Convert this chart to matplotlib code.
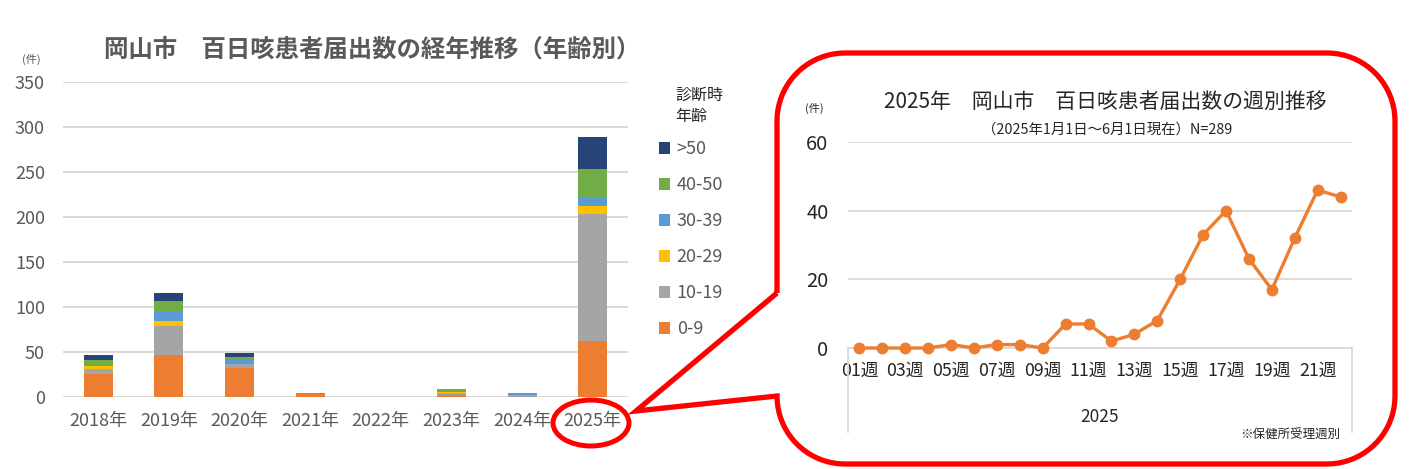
import matplotlib
matplotlib.use("Agg")
import matplotlib.pyplot as plt
import numpy as np
from matplotlib.patches import Ellipse, PathPatch
from matplotlib.path import Path

plt.rcParams['font.family'] = ['Noto Sans CJK JP', 'DejaVu Sans']

# ---------------- data ----------------
years = ['2018年', '2019年', '2020年', '2021年', '2022年', '2023年', '2024年', '2025年']
age_groups = ['0-9', '10-19', '20-29', '30-39', '40-50', '>50']
age_0_9   = [26, 47, 32, 3, 0, 2, 0, 62]
age_10_19 = [5, 32, 5, 0, 0, 2, 2, 141]
age_20_29 = [3, 6, 0, 0, 0, 2, 0, 9]
age_30_39 = [2, 10, 5, 1, 0, 0, 2, 10]
age_40_50 = [5, 12, 3, 1, 0, 3, 0, 31]
age_50p   = [6, 9, 4, 0, 0, 0, 0, 36]
age_colors = ['#ED7D31', '#A5A5A5', '#FFC000', '#5B9BD5', '#70AD47', '#264478']
left_yticks = [0, 50, 100, 150, 200, 250, 300, 350]

week_labels = ['01週', '02週', '03週', '04週', '05週', '06週', '07週', '08週', '09週', '10週', '11週',
               '12週', '13週', '14週', '15週', '16週', '17週', '18週', '19週', '20週', '21週', '22週']
weekly_cases = [0, 0, 0, 0, 1, 0, 1, 1, 0, 7, 7, 2, 4, 8, 20, 33, 40, 26, 17, 32, 46, 44]
right_yticks = [0, 20, 40, 60]

W, H = 1416, 469
fig = plt.figure(figsize=(W / 100, H / 100), dpi=100)
fig.patch.set_facecolor('white')


def rect(l, t, r, b):
    return [l / W, 1 - b / H, (r - l) / W, (b - t) / H]


GRID = '#D9D9D9'
TXT_L = '#595959'
TXT_R = '#262626'

# ---------------- left chart ----------------
ax = fig.add_axes(rect(63, 82, 628, 397))
series = [age_0_9, age_10_19, age_20_29, age_30_39, age_40_50, age_50p]
x = np.arange(len(years))
bottom = np.zeros(len(years))
handles = []
for vals, col, lab in zip(series, age_colors, age_groups):
    b = ax.bar(x, vals, width=0.41, bottom=bottom, color=col, label=lab, zorder=3)
    handles.append(b)
    bottom += np.array(vals)
ax.set_xlim(-0.5, len(years) - 0.5)
ax.set_ylim(0, 350)
ax.set_yticks(left_yticks)
ax.set_xticks(x)
ax.set_xticklabels(years)
ax.yaxis.grid(True, color=GRID, lw=1.4, zorder=0)
ax.set_axisbelow(True)
for s in ax.spines.values():
    s.set_visible(False)
ax.tick_params(axis='both', length=0, labelsize=13, colors=TXT_L)
ax.tick_params(axis='y', pad=13)
ax.tick_params(axis='x', pad=11)
fig.text(31 / W, 1 - 59 / H, '(件)', fontsize=8, color=TXT_L, ha='center', va='center')
fig.text(372 / W, 1 - 50 / H, '岡山市　百日咳患者届出数の経年推移（年齢別）', fontsize=17.6,
         fontweight='bold', color=TXT_L, ha='center', va='center')

# legend
leg = fig.legend(handles=handles[::-1], labels=age_groups[::-1], loc='upper left',
                 bbox_to_anchor=(652 / W, 1 - 133 / H), frameon=False, fontsize=13,
                 handlelength=0.62, handleheight=0.62, handletextpad=0.35,
                 labelspacing=1.0, borderaxespad=0)
for t in leg.get_texts():
    t.set_color(TXT_L)
fig.text(675 / W, 1 - 106 / H, '診断時\n年齢', fontsize=11.5, color=TXT_R,
         ha='left', va='center', linespacing=1.3)

# ---------------- right chart ----------------
ax2 = fig.add_axes(rect(848, 142, 1352, 348))
xi = np.arange(len(weekly_cases))
ax2.plot(xi, weekly_cases, color='#ED7D31', lw=2.4, marker='o', markersize=7.5, zorder=3,
         clip_on=False)
ax2.set_xlim(-0.5, len(weekly_cases) - 0.5)
ax2.set_ylim(0, 60)
ax2.set_yticks(right_yticks)
ax2.set_xticks(xi[::2])
ax2.set_xticklabels(week_labels[::2])
ax2.yaxis.grid(True, color=GRID, lw=1.3, zorder=0)
ax2.set_axisbelow(True)
for k, s in ax2.spines.items():
    s.set_visible(k == 'bottom')
ax2.spines['bottom'].set_color(GRID)
ax2.spines['bottom'].set_linewidth(1.3)
ax2.tick_params(axis='both', length=0, colors=TXT_R)
ax2.tick_params(axis='y', labelsize=14.5, pad=14)
ax2.tick_params(axis='x', labelsize=12.8, pad=10)
ax2.text(0.5, -0.335, '2025', transform=ax2.transAxes, fontsize=12.5, color=TXT_R,
         ha='center', va='center')
fig.text(1105 / W, 1 - 102 / H, '2025年　岡山市　百日咳患者届出数の週別推移', fontsize=15,
         color=TXT_R, ha='center', va='center')
fig.text(1107 / W, 1 - 130 / H, '（2025年1月1日～6月1日現在）N=289', fontsize=10.4,
         color=TXT_R, ha='center', va='center')
fig.text(814 / W, 1 - 108 / H, '(件)', fontsize=8, color=TXT_R, ha='center', va='center')
fig.text(1340 / W, 1 - 435 / H, '※保健所受理週別', fontsize=9, color=TXT_R,
         ha='right', va='center')

# ---------------- overlay (callout, ellipse, separators) ----------------
ov = fig.add_axes([0, 0, 1, 1], zorder=10)
ov.set_xlim(0, W)
ov.set_ylim(H, 0)
ov.axis('off')
ov.patch.set_alpha(0)

for xs in (848, 1352):
    ov.plot([xs, xs], [348, 432], color=GRID, lw=1.3)

L, R, T, B, r = 777, 1395, 53, 464, 68
tip = (636, 411)
up_join = 293


def arc(cx, cy, a0, a1, n=20):
    a = np.radians(np.linspace(a0, a1, n))
    return list(zip(cx + r * np.cos(a), cy + r * np.sin(a)))


pts = [(L, up_join), (L, T + r)]
pts += arc(L + r, T + r, 180, 270)
pts += [(R - r, T)]
pts += arc(R - r, T + r, 270, 360)
pts += [(R, B - r)]
pts += arc(R - r, B - r, 0, 90)
pts += [(L + r, B)]
pts += arc(L + r, B - r, 90, 180)
pts += [tip, (L, up_join)]
codes = [Path.MOVETO] + [Path.LINETO] * (len(pts) - 1)
ov.add_patch(PathPatch(Path(pts, codes), fill=False, ec='#FF0000', lw=3.8, joinstyle='miter'))
ov.add_patch(Ellipse((591, 423), 76, 46, fill=False, ec='#FF0000', lw=3.6))

fig.savefig('out.png', dpi=100)
